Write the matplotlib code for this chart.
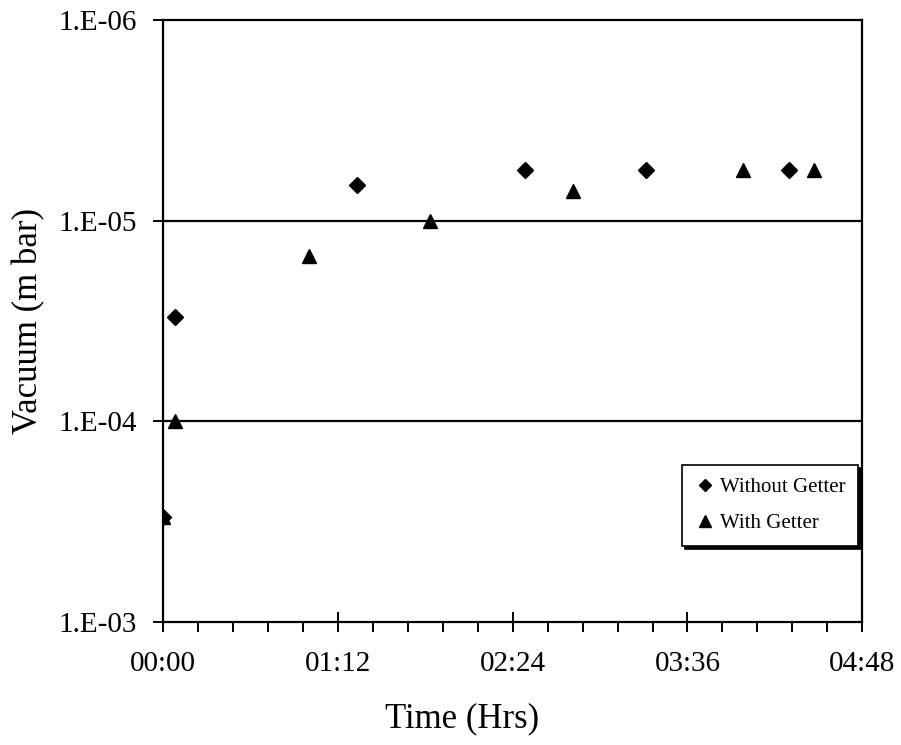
import math
import matplotlib
matplotlib.use("Agg")
import matplotlib.pyplot as plt
from matplotlib.ticker import MultipleLocator, FuncFormatter, FixedLocator, NullLocator

# time in minutes from start, vacuum in mbar
t_without = [0, 5, 80, 149, 199, 258]
p_without = [3.0e-4, 3.0e-5, 6.6e-6, 5.6e-6, 5.6e-6, 5.6e-6]
t_with = [0, 5, 60, 110, 169, 239, 268]
p_with = [3.0e-4, 1.0e-4, 1.5e-5, 1.0e-5, 7.1e-6, 5.6e-6, 5.6e-6]

plt.rcParams['font.family'] = ['Liberation Serif', 'DejaVu Serif']

fig = plt.figure(figsize=(9.01, 7.45), dpi=100)
ax = fig.add_axes([0.181, 0.165, 0.776, 0.808])

ax.plot(t_without, p_without, 'D', color='black', ms=8, ls='none', label='Without Getter')
ax.plot(t_with, p_with, '^', color='black', ms=10, ls='none', label='With Getter')

ax.set_yscale('log')
ax.set_ylim(1e-3, 1e-6)
ax.set_xlim(0, 288)

ax.yaxis.set_major_locator(FixedLocator([1e-3, 1e-4, 1e-5, 1e-6]))
ax.yaxis.set_minor_locator(NullLocator())
ax.yaxis.set_major_formatter(FuncFormatter(lambda v, p: "1.E-%02d" % round(-math.log10(v))))

ax.xaxis.set_major_locator(MultipleLocator(72))
ax.xaxis.set_minor_locator(MultipleLocator(14.4))
ax.xaxis.set_major_formatter(FuncFormatter(lambda v, p: "%02d:%02d" % (int(v // 60), int(round(v % 60)))))

for y in [1e-5, 1e-4]:
    ax.axhline(y, color='black', lw=1.6, zorder=1)

for s in ax.spines.values():
    s.set_linewidth(1.6)

ax.tick_params(axis='both', which='major', direction='inout', length=14, width=1.4,
               labelsize=21)
ax.tick_params(axis='y', which='major', pad=12)
ax.tick_params(axis='x', which='minor', direction='out', length=7, width=1.4)
ax.tick_params(axis='x', which='major', pad=14)

ax.set_xlabel('Time (Hrs)', fontsize=25)
ax.set_ylabel('Vacuum (m bar)', fontsize=25)
ax.xaxis.set_label_coords(0.428, -0.134)
ax.yaxis.set_label_coords(-0.169, 0.5)

leg = ax.legend(loc='upper right', bbox_to_anchor=(0.994, 0.261), borderaxespad=0,
                fancybox=False, edgecolor='black', framealpha=1, fontsize=15,
                handletextpad=0.2, handlelength=1.0, markerscale=0.8,
                borderpad=0.6, labelspacing=0.8,
                shadow={'color': 'black', 'alpha': 1})
leg.get_frame().set_linewidth(1.2)

fig.savefig('out.png', dpi=100)
